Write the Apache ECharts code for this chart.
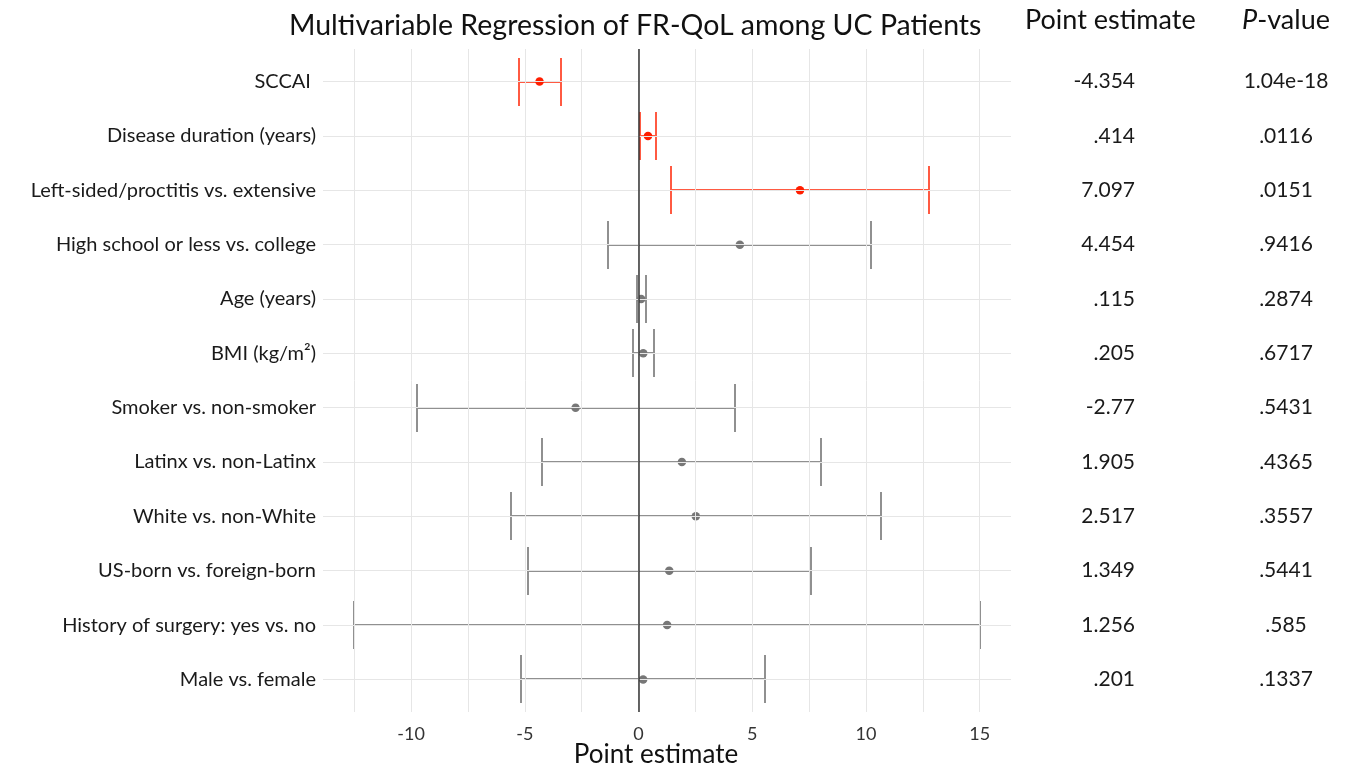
<!DOCTYPE html>
<html>
<head>
<meta charset="utf-8">
<script src="https://cdn.jsdelivr.net/npm/echarts@6/dist/echarts.min.js"></script>
<style>
  html, body { margin: 0; padding: 0; background: #fff; }
  #chart { width: 1345px; height: 765px; }
</style>
</head>
<body>
<div id="chart"></div>
<script>
var labels = [
  'SCCAI ',
  'Disease duration (years)',
  'Left-sided/proctitis vs. extensive',
  'High school or less vs. college',
  'Age (years)',
  'BMI (kg/m\u00b2)',
  'Smoker vs. non-smoker',
  'Latinx vs. non-Latinx',
  'White vs. non-White',
  'US-born vs. foreign-born',
  'History of surgery: yes vs. no',
  'Male vs. female'
];
var estimates = [-4.354, 0.414, 7.097, 4.454, 0.115, 0.205, -2.77, 1.905, 2.517, 1.349, 1.256, 0.201];
var lower = [-5.25, 0.05, 1.41, -1.36, -0.09, -0.24, -9.73, -4.23, -5.59, -4.84, -12.5, -5.15];
var upper = [-3.39, 0.78, 12.78, 10.24, 0.31, 0.66, 4.22, 8.04, 10.65, 7.58, 15.0, 5.58];
var pText = ['1.04e-18', '.0116', '.0151', '.9416', '.2874', '.6717', '.5431', '.4365', '.3557', '.5441', '.585', '.1337'];
var pValues = [1.04e-18, 0.0116, 0.0151, 0.9416, 0.2874, 0.6717, 0.5431, 0.4365, 0.3557, 0.5441, 0.585, 0.1337];
var xTicks = [-10, -5, 0, 5, 10, 15];
var xGrid = [-12.5, -10, -7.5, -5, -2.5, 0, 2.5, 5, 7.5, 10, 12.5, 15];

var rows = labels.map(function (d, i) { return i + 1; });
var fontFamily = 'Lato, "Open Sans", sans-serif';

// red when p < .05
function rowColor(i, point) {
  if (pValues[i] < 0.05) return point ? '#ff1e00' : '#ff5a42';
  return point ? '#777777' : '#909090';
}

function estText(v) {
  return String(v).replace(/^(-?)0\./, '$1.');
}

var chart = echarts.init(document.getElementById('chart'));

var gridLines = xGrid.map(function (v) { return { xAxis: v }; })
  .concat(rows.map(function (r) { return { yAxis: r }; }));

var option = {
  backgroundColor: '#fff',
  animation: false,
  textStyle: { fontFamily: fontFamily },
  title: {
    text: 'Multivariable Regression of FR-QoL among UC Patients',
    left: 284,
    top: 6,
    textStyle: { fontSize: 28.5, fontWeight: 'normal', color: '#111', fontFamily: fontFamily }
  },
  graphic: [
    {
      type: 'text', left: 1025, top: 7,
      style: { text: 'Point estimate', fontSize: 27, fill: '#111', fontFamily: fontFamily }
    },
    {
      type: 'text', left: 1242, top: 7,
      style: {
        text: '{i|P}-value', fontSize: 27, fill: '#111', fontFamily: fontFamily,
        rich: { i: { fontStyle: 'italic', fontSize: 27, fontFamily: fontFamily } }
      }
    }
  ],
  grid: { left: 323, right: 334, top: 49, bottom: 53, outerBoundsMode: 'none', containLabel: false },
  xAxis: {
    type: 'value',
    min: -13.875,
    max: 16.375,
    axisLine: { show: false },
    axisTick: { show: false },
    splitLine: { show: false },
    axisLabel: { customValues: xTicks, fontSize: 18, color: '#333', margin: 13 },
    name: 'Point estimate',
    nameLocation: 'middle',
    nameGap: 30,
    nameMoveOverlap: false,
    nameTextStyle: { fontSize: 26, color: '#111', padding: [0, 22, 0, 0] }
  },
  yAxis: [
    {
      type: 'value', inverse: true, min: 0.4, max: 12.6,
      axisLine: { show: false }, axisTick: { show: false }, splitLine: { show: false },
      axisLabel: {
        customValues: rows, fontSize: 20, color: '#1a1a1a', margin: 7,
        formatter: function (v) { return labels[v - 1]; }
      }
    },
    {
      type: 'value', inverse: true, min: 0.4, max: 12.6, position: 'right',
      axisLine: { show: false }, axisTick: { show: false }, splitLine: { show: false },
      axisLabel: {
        customValues: rows, fontSize: 21, color: '#1a1a1a', margin: 124, align: 'right',
        formatter: function (v) { return estText(estimates[v - 1]); }
      }
    },
    {
      type: 'value', inverse: true, min: 0.4, max: 12.6, position: 'right',
      axisLine: { show: false }, axisTick: { show: false }, splitLine: { show: false },
      axisLabel: {
        customValues: rows, fontSize: 21, color: '#1a1a1a', margin: 275, align: 'center',
        formatter: function (v) { return pText[v - 1]; }
      }
    }
  ],
  series: [
    {
      type: 'scatter',
      data: [],
      z: 1,
      silent: true,
      markLine: {
        silent: true,
        symbol: 'none',
        label: { show: false },
        lineStyle: { color: '#e6e6e6', width: 1, type: 'solid' },
        data: gridLines
      }
    },
    {
      type: 'custom',
      z: 2,
      encode: { x: [1, 2], y: 0 },
      data: rows.map(function (r, i) { return [r, lower[i], upper[i]]; }),
      renderItem: function (params, api) {
        var y = api.value(0);
        var lo = api.coord([api.value(1), y]);
        var hi = api.coord([api.value(2), y]);
        var h = Math.round(api.size([0, 0.45])[1]);
        var yc = Math.round(lo[1]);
        var x1 = Math.round(lo[0]), x2 = Math.round(hi[0]);
        var style = { stroke: rowColor(params.dataIndex, false), lineWidth: 2 };
        return {
          type: 'group',
          children: [
            { type: 'line', shape: { x1: x1, y1: yc, x2: x2, y2: yc }, style: style },
            { type: 'line', shape: { x1: x1, y1: yc - h, x2: x1, y2: yc + h }, style: style },
            { type: 'line', shape: { x1: x2, y1: yc - h, x2: x2, y2: yc + h }, style: style }
          ]
        };
      }
    },
    {
      type: 'scatter',
      z: 3,
      symbolSize: 8.5,
      data: rows.map(function (r, i) { return [estimates[i], r]; }),
      itemStyle: {
        opacity: 1,
        color: function (p) { return rowColor(p.dataIndex, true); }
      },
      markLine: {
        silent: true,
        symbol: 'none',
        label: { show: false },
        lineStyle: { color: '#333', width: 1.5, type: 'solid' },
        data: [{ xAxis: 0 }]
      }
    }
  ]
};

chart.setOption(option);
</script>
</body>
</html>
